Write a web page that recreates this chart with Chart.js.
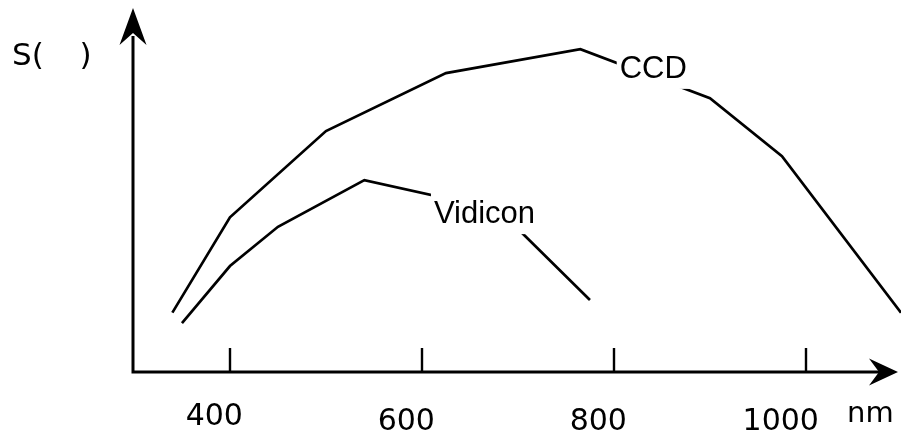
<!DOCTYPE html>
<html><head><meta charset="utf-8">
<script src="https://cdn.jsdelivr.net/npm/chart.js@4"></script>
<style>html,body{margin:0;padding:0;background:#fff;}#wrap{width:901px;height:435px;}</style>
</head><body><div id="wrap"><canvas id="c" width="901" height="435"></canvas></div>
<script>
// ---- data ----
const ccdWavelengths = [340, 400, 500, 625, 765, 900, 975, 1099];
const ccdValues      = [16.3, 42.5, 66.2, 82.1, 88.7, 75.2, 59.3, 16.3];
const vidiconWavelengths = [350, 400, 450, 540, 680, 775];
const vidiconValues      = [13.4, 29.1, 39.9, 52.7, 44.5, 19.8];
const xTickValues = [400, 600, 800, 1000];
const xTickLabels = ['400', '600', '800', '1000'];
const seriesNames = ['CCD', 'Vidicon'];
const yAxisTitle = 'S(\u00a0\u00a0\u00a0\u2009)';
const xAxisUnit = 'nm';

const toPoints = (xs, ys) => xs.map((x, i) => ({x: x, y: ys[i]}));

const labelAnchors = [
  {name: seriesNames[0], x: 806, y: 80.8},   // data coords: left / baseline
  {name: seriesNames[1], x: 612.5, y: 40.9}
];

const axesPlugin = {
  id: 'axesPlugin',
  afterDatasetsDraw(chart) {
    const ctx = chart.ctx;
    const xs = chart.scales.x, ys = chart.scales.y;
    const a = chart.chartArea;
    ctx.save();
    // series labels with white background cutting the lines
    ctx.font = '31px "Liberation Sans", Arial, sans-serif';
    ctx.textBaseline = 'alphabetic';
    ctx.textAlign = 'left';
    labelAnchors.forEach(l => {
      const px = xs.getPixelForValue(l.x), py = ys.getPixelForValue(l.y);
      const w = ctx.measureText(l.name).width;
      ctx.fillStyle = '#fff';
      ctx.fillRect(px - 3, py - 31, w + 6, 42);
      ctx.fillStyle = '#000';
      ctx.fillText(l.name, px, py);
    });
    // axes
    const x0 = a.left, y0 = ys.getPixelForValue(0);
    ctx.strokeStyle = '#000';
    ctx.fillStyle = '#000';
    ctx.lineWidth = 3;
    ctx.lineCap = 'butt';
    ctx.beginPath();
    ctx.moveTo(x0, y0 + 1.5); ctx.lineTo(x0, 36);
    ctx.moveTo(x0 - 1.5, y0); ctx.lineTo(880, y0);
    ctx.stroke();
    // y arrow
    ctx.beginPath();
    ctx.moveTo(x0, 8); ctx.lineTo(x0 - 13.5, 45); ctx.lineTo(x0, 33); ctx.lineTo(x0 + 13.5, 45); ctx.closePath();
    ctx.fill();
    // x arrow
    ctx.beginPath();
    ctx.moveTo(898, y0); ctx.lineTo(869, y0 - 13.5); ctx.lineTo(879, y0); ctx.lineTo(869, y0 + 13.5); ctx.closePath();
    ctx.fill();
    // ticks
    ctx.lineWidth = 2.4;
    ctx.beginPath();
    xTickValues.forEach(v => {
      const px = Math.round(xs.getPixelForValue(v));
      ctx.moveTo(px, y0); ctx.lineTo(px, y0 - 24);
    });
    ctx.stroke();
    // tick labels
    ctx.font = '30px "DejaVu Sans", Verdana, sans-serif';
    ctx.textAlign = 'right';
    const baseOff = [53, 58, 58, 58];
    xTickValues.forEach((v, i) => {
      const px = xs.getPixelForValue(v);
      ctx.fillText(xTickLabels[i], px + 13, y0 + baseOff[i]);
    });
    ctx.textAlign = 'left';
    ctx.font = '29px "DejaVu Sans", Verdana, sans-serif';
    ctx.fillText(xAxisUnit, 847, y0 + 50);
    ctx.font = '31px "DejaVu Sans", Verdana, sans-serif';
    ctx.fillText(yAxisTitle, 12, 65);
    ctx.restore();
  }
};

new Chart(document.getElementById('c'), {
  type: 'line',
  data: {
    datasets: [
      {label: seriesNames[0], data: toPoints(ccdWavelengths, ccdValues)},
      {label: seriesNames[1], data: toPoints(vidiconWavelengths, vidiconValues)}
    ]
  },
  options: {
    responsive: false,
    animation: false,
    devicePixelRatio: 1,
    layout: {padding: {left: 133, right: 0, top: 8, bottom: 63}},
    elements: {
      point: {radius: 0, hoverRadius: 0},
      line: {tension: 0, borderWidth: 2.7, borderColor: '#000', fill: false, borderJoinStyle: 'miter'}
    },
    scales: {
      x: {type: 'linear', min: 299, max: 1099, display: false},
      y: {type: 'linear', min: 0, max: 100, display: false}
    },
    plugins: {legend: {display: false}, tooltip: {enabled: false}}
  },
  plugins: [axesPlugin]
});
</script>
</body></html>
